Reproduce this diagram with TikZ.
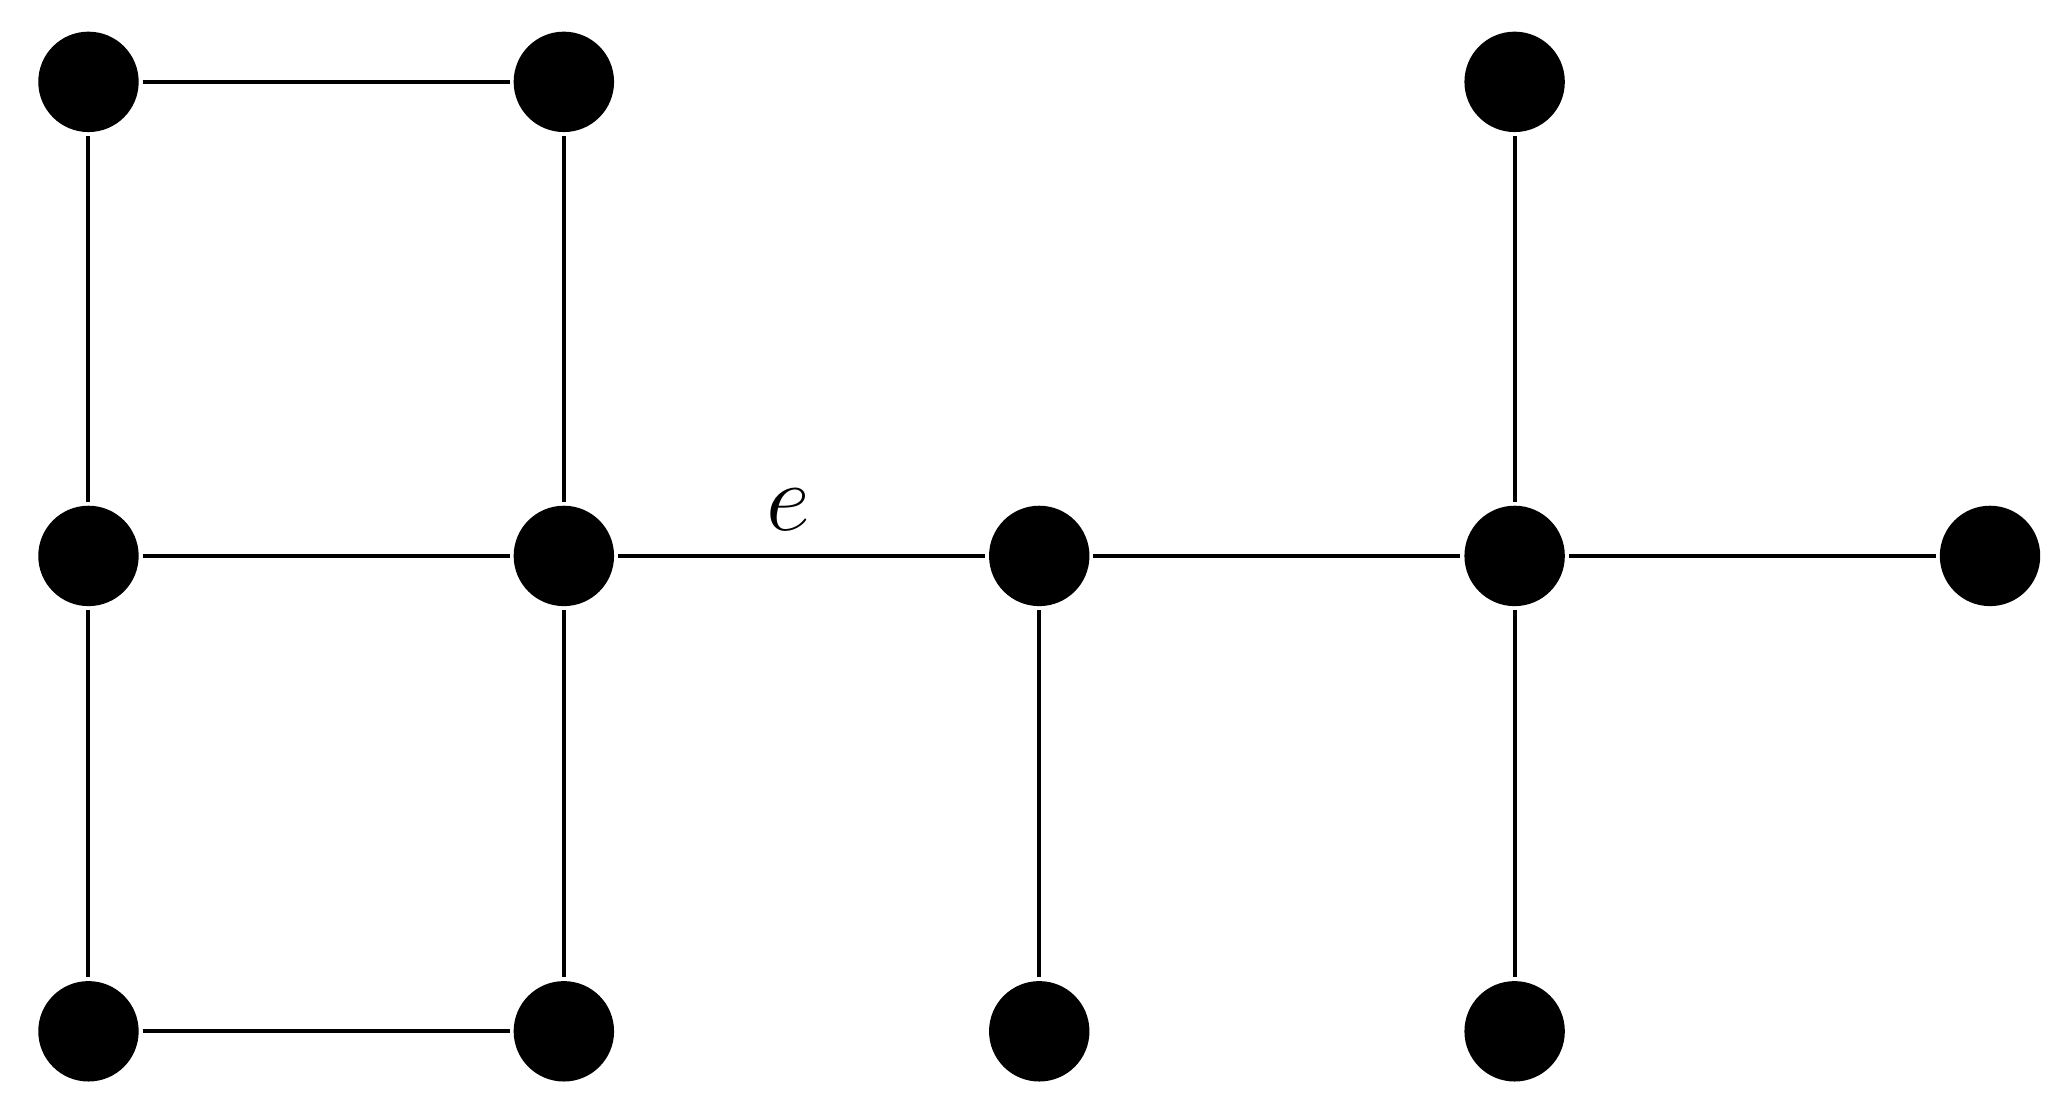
\documentclass[tikz,border=0pt]{standalone}
\begin{document}
\begin{tikzpicture}[x=0.01cm,y=-0.01cm,
  vtx/.style={circle,fill=black,minimum size=0.76cm,inner sep=0pt,outer sep=0.03cm},
  edge/.style={line width=0.03cm}]
\useasboundingbox (0,0) rectangle (1560,831);
\node[vtx] (a1) at (67,62) {};
\node[vtx] (a2) at (427,62) {};
\node[vtx] (a4) at (1147,62) {};
\node[vtx] (b1) at (67,421) {};
\node[vtx] (b2) at (427,421) {};
\node[vtx] (b3) at (787,421) {};
\node[vtx] (b4) at (1147,421) {};
\node[vtx] (b5) at (1507,421) {};
\node[vtx] (c1) at (67,781) {};
\node[vtx] (c2) at (427,781) {};
\node[vtx] (c3) at (787,781) {};
\node[vtx] (c4) at (1147,781) {};
\draw[edge] (a1)--(a2) (a1)--(b1) (a2)--(b2) (b1)--(b2) (b1)--(c1) (b2)--(c2) (c1)--(c2)
  (b3)--(c3) (b3)--(b4) (b4)--(b5) (a4)--(b4) (b4)--(c4);
\draw[edge] (b2)-- node[above=0.06cm,font=\fontsize{22}{26}\selectfont,xshift=-0.1cm] {$e$} (b3);
\end{tikzpicture}
\end{document}
